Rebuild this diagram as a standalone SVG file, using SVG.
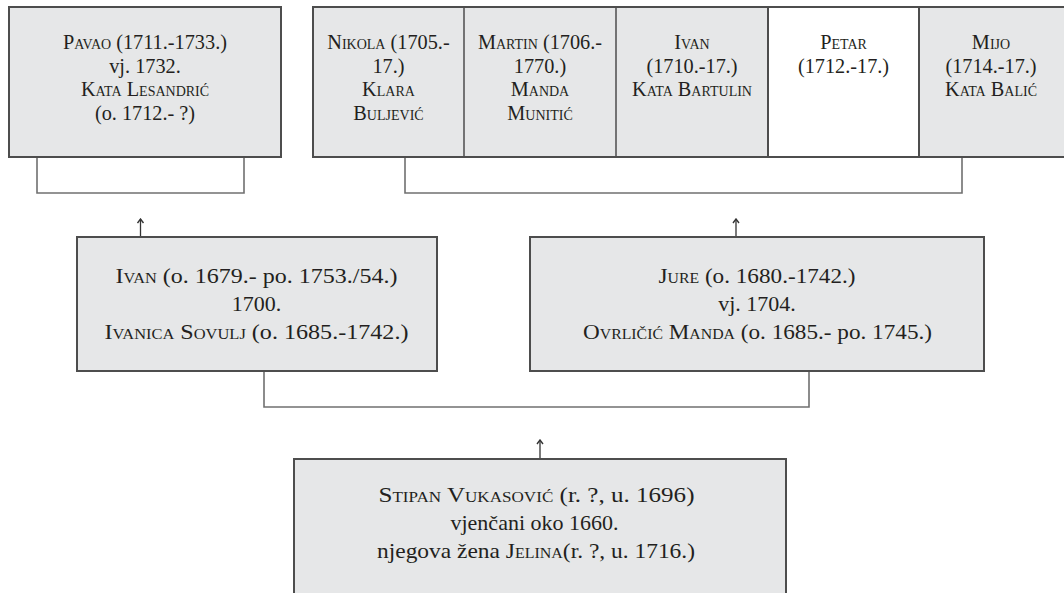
<svg xmlns="http://www.w3.org/2000/svg" width="1064" height="593" viewBox="0 0 1064 593">
<style>
.box{fill:#e6e7e8;stroke:#4d4d4d;stroke-width:2}
.white{fill:#ffffff;stroke:#4d4d4d;stroke-width:2}
.div{stroke:#4d4d4d;stroke-width:1.5;fill:none}
.br{fill:none;stroke:#707070;stroke-width:1.6}
.ar{fill:none;stroke:#333;stroke-width:1.3}
.t1{font-size:20.3px;fill:#231f20;text-anchor:middle}
.t2{font-size:22px;fill:#231f20;text-anchor:middle}
.sc{font-variant:small-caps}
</style>
<defs>
<marker id="ah" viewBox="0 0 8 8" refX="7" refY="4" markerWidth="8" markerHeight="8" markerUnits="userSpaceOnUse" orient="auto">
<path d="M3,1 L7,4 L3,7" fill="none" stroke="#333" stroke-width="1.4"/>
</marker>
</defs>
<g id="connectors">
<path class="br" d="M37,157 V193 H244 V157"/>
<path class="br" d="M405,157 V193 H962 V157"/>
<path class="br" d="M264,371 V407 H809 V371"/>
<line class="ar" x1="140.5" y1="237" x2="140.5" y2="219" marker-end="url(#ah)"/>
<line class="ar" x1="736" y1="237" x2="736" y2="219" marker-end="url(#ah)"/>
<line class="ar" x1="540" y1="459" x2="540" y2="440" marker-end="url(#ah)"/>
</g>
<g font-family="'Liberation Serif', 'Times New Roman', 'DejaVu Serif', serif">
<g id="pavao">
<rect class="box" x="9" y="7" width="272" height="150"/>
<text class="t1" x="145" y="49"><tspan class="sc">Pavao</tspan> (1711.-1733.)</text>
<text class="t1" x="145" y="72.5">vj. 1732.</text>
<text class="t1" x="145" y="96"><tspan class="sc">Kata Lesandrić</tspan></text>
<text class="t1" x="145" y="119.5">(o. 1712.- ?)</text>
</g>
<g id="children">
<rect class="box" x="313" y="7" width="753" height="150"/>
<rect class="white" x="768" y="7" width="151" height="150"/>
<path class="div" d="M464,7 V157 M616,7 V157"/>
</g>
<g id="nikola">
<text class="t1" x="388.5" y="49"><tspan class="sc">Nikola</tspan> (1705.-</text>
<text class="t1" x="388.5" y="72.5">17.)</text>
<text class="t1 sc" x="388.5" y="96">Klara</text>
<text class="t1 sc" x="388.5" y="119.5">Buljević</text>
</g>
<g id="martin">
<text class="t1" x="540" y="49"><tspan class="sc">Martin</tspan> (1706.-</text>
<text class="t1" x="540" y="72.5">1770.)</text>
<text class="t1 sc" x="540" y="96">Manda</text>
<text class="t1 sc" x="540" y="119.5">Munitić</text>
</g>
<g id="ivan-child">
<text class="t1 sc" x="692" y="49">Ivan</text>
<text class="t1" x="692" y="72.5">(1710.-17.)</text>
<text class="t1 sc" x="692" y="96">Kata Bartulin</text>
</g>
<g id="petar">
<text class="t1 sc" x="843.5" y="49">Petar</text>
<text class="t1" x="843.5" y="72.5">(1712.-17.)</text>
</g>
<g id="mijo">
<text class="t1 sc" x="991" y="49">Mijo</text>
<text class="t1" x="991" y="72.5">(1714.-17.)</text>
<text class="t1 sc" x="991" y="96">Kata Balić</text>
</g>
<g id="ivan">
<rect class="box" x="77" y="237" width="360" height="134"/>
<text class="t2" x="256.5" y="283" textLength="282" lengthAdjust="spacingAndGlyphs"><tspan class="sc">Ivan</tspan> (o. 1679.- po. 1753./54.)</text>
<text class="t2" x="256.5" y="311">1700.</text>
<text class="t2" x="256.5" y="339" textLength="304" lengthAdjust="spacingAndGlyphs"><tspan class="sc">Ivanica Sovulj</tspan> (o. 1685.-1742.)</text>
</g>
<g id="jure">
<rect class="box" x="530" y="237" width="454" height="134"/>
<text class="t2" x="757" y="283" textLength="197" lengthAdjust="spacingAndGlyphs"><tspan class="sc">Jure</tspan> (o. 1680.-1742.)</text>
<text class="t2" x="757" y="311">vj. 1704.</text>
<text class="t2" x="757.5" y="339" textLength="349" lengthAdjust="spacingAndGlyphs"><tspan class="sc">Ovrličić Manda</tspan> (o. 1685.- po. 1745.)</text>
</g>
<g id="stipan">
<rect class="box" x="294" y="459" width="492" height="140"/>
<text class="t2" x="536.5" y="502" textLength="316" lengthAdjust="spacingAndGlyphs"><tspan class="sc">Stipan Vukasović</tspan> (r. ?, u. 1696)</text>
<text class="t2" x="534.5" y="530">vjenčani oko 1660.</text>
<text class="t2" x="536" y="558" textLength="318" lengthAdjust="spacingAndGlyphs">njegova žena <tspan class="sc">Jelina</tspan>(r. ?, u. 1716.)</text>
</g>
</g>
</svg>
